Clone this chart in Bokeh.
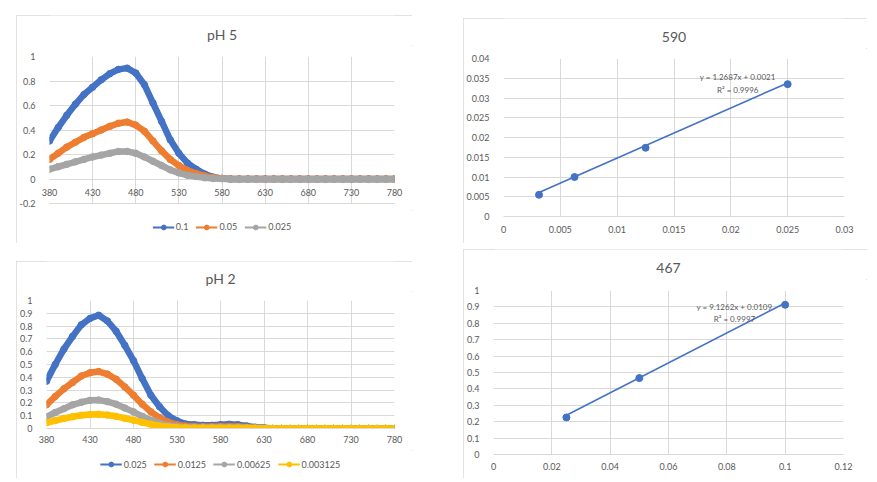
import numpy as np
from bokeh.plotting import figure
from bokeh.layouts import row, column
from bokeh.models import Range1d, FixedTicker, CustomJSTickFormatter, Legend, LegendItem, Label
from bokeh.embed import file_html
from bokeh.resources import INLINE

# ---------------- data ----------------
wavelength = list(range(380, 781, 10))

titles = ["pH 5", "590", "pH 2", "467"]

ph5_labels = ["0.1", "0.05", "0.025"]
ph5_01 = [0.31, 0.42, 0.52, 0.61, 0.69, 0.75, 0.81, 0.86, 0.895, 0.905, 0.865, 0.77, 0.62, 0.47, 0.32,
          0.21, 0.13, 0.08, 0.04, 0.015, 0.005,
          0, 0, 0, 0, 0, 0, 0, 0, 0, 0, 0, 0, 0, 0, 0, 0, 0, 0, 0, 0]
ph5_005 = [0.16, 0.21, 0.26, 0.30, 0.34, 0.37, 0.40, 0.43, 0.455, 0.465, 0.44, 0.39, 0.31, 0.23, 0.16,
           0.11, 0.07, 0.045, 0.025, 0.012, 0.005,
           0, 0, 0, 0, 0, 0, 0, 0, 0, 0, 0, 0, 0, 0, 0, 0, 0, 0, 0, 0]
ph5_0025 = [0.08, 0.10, 0.12, 0.14, 0.16, 0.18, 0.195, 0.21, 0.225, 0.225, 0.21, 0.18, 0.145, 0.11, 0.075,
            0.05, 0.03, 0.02, 0.01, 0.005, 0.002,
            -0.003, -0.003, -0.003, -0.003, -0.003, -0.003, -0.003, -0.003, -0.003, -0.003,
            -0.003, -0.003, -0.003, -0.003, -0.003, -0.003, -0.003, -0.003, -0.003, -0.003]

ph2_labels = ["0.025", "0.0125", "0.00625", "0.003125"]
ph2_0025 = [0.37, 0.50, 0.62, 0.72, 0.81, 0.86, 0.885, 0.84, 0.76, 0.65, 0.53, 0.39, 0.26, 0.17, 0.10,
            0.06, 0.035, 0.03, 0.025, 0.025, 0.03, 0.033, 0.03, 0.02, 0.01, 0.005,
            0, 0, 0, 0, 0, 0, 0, 0, 0, 0, 0, 0, 0, 0, 0]
ph2_00125 = [0.185, 0.25, 0.31, 0.36, 0.41, 0.435, 0.445, 0.425, 0.385, 0.325, 0.26, 0.19, 0.13, 0.085, 0.05,
             0.03, 0.02, 0.015, 0.013, 0.013, 0.015, 0.016, 0.015, 0.01, 0.005, 0.002,
             0, 0, 0, 0, 0, 0, 0, 0, 0, 0, 0, 0, 0, 0, 0]
ph2_000625 = [0.09, 0.125, 0.155, 0.185, 0.205, 0.22, 0.222, 0.21, 0.19, 0.16, 0.13, 0.095, 0.065, 0.042, 0.025,
              0.015, 0.01, 0.008, 0.007, 0.007, 0.007, 0.007, 0.007, 0.005, 0.003, 0.001,
              0, 0, 0, 0, 0, 0, 0, 0, 0, 0, 0, 0, 0, 0, 0]
ph2_0003125 = [0.045, 0.062, 0.078, 0.092, 0.103, 0.11, 0.111, 0.105, 0.095, 0.08, 0.065, 0.048, 0.033, 0.021, 0.013,
               0.008, 0.005, 0.004, 0.004, 0.004, 0.004, 0.004, 0.004, 0.003, 0.002, 0.001,
               0, 0, 0, 0, 0, 0, 0, 0, 0, 0, 0, 0, 0, 0, 0]

conc_590 = [0.003125, 0.00625, 0.0125, 0.025]
abs_590 = [0.0055, 0.0100, 0.0174, 0.0335]
slope_590, icpt_590 = 1.2687, 0.0021
eq_590 = "y = 1.2687x + 0.0021"
r2_590 = "R² = 0.9996"

conc_467 = [0.025, 0.05, 0.1]
abs_467 = [0.226, 0.466, 0.913]
slope_467, icpt_467 = 9.1262, 0.0109
eq_467 = "y = 9.1262x + 0.0109"
r2_467 = "R² = 0.9997"

wl_ticks = [380, 430, 480, 530, 580, 630, 680, 730, 780]
ph5_yticks = [-0.2, 0, 0.2, 0.4, 0.6, 0.8, 1]
ph2_yticks = [0, 0.1, 0.2, 0.3, 0.4, 0.5, 0.6, 0.7, 0.8, 0.9, 1]
c590_xticks = [0, 0.005, 0.01, 0.015, 0.02, 0.025, 0.03]
c590_yticks = [0, 0.005, 0.01, 0.015, 0.02, 0.025, 0.03, 0.035, 0.04]
c467_xticks = [0, 0.02, 0.04, 0.06, 0.08, 0.1, 0.12]
c467_yticks = [0, 0.1, 0.2, 0.3, 0.4, 0.5, 0.6, 0.7, 0.8, 0.9, 1]

# ---------------- style ----------------
FONT = "Lato"
TXT = "#595959"
GRID = "#d9d9d9"
BOX = {"outline": "1px solid #d9d9d9", "outline-offset": "-1px"}
BLUE, ORANGE, GREY, YELLOW = "#4472C4", "#ED7D31", "#A5A5A5", "#FFC000"

fmt_code = "return String(parseFloat(tick.toFixed(6)));"


def blank_fig(w, h):
    q = figure(width=w, height=h, x_range=Range1d(0, 1), y_range=Range1d(0, 1),
               output_backend="svg", toolbar_location=None, x_axis_type=None, y_axis_type=None,
               min_border=0)
    q.grid.visible = False
    q.outline_line_color = None
    q.background_fill_color = "white"
    q.border_fill_color = "white"
    return q


def title_strip(w, h, text, yfrac):
    q = blank_fig(w, h)
    q.add_layout(Label(x=0.5, y=yfrac, text=text, text_align="center", text_baseline="middle",
                       text_font=FONT, text_font_size="14px", text_color=TXT))
    return q


def legend_strip(w, h, labels, colors):
    q = blank_fig(w, h)
    items = []
    for lab, c in zip(labels, colors):
        lr = q.line([float("nan")], [float("nan")], color=c, line_width=2)
        sr = q.scatter([float("nan")], [float("nan")], color=c, size=6)
        items.append(LegendItem(label=lab, renderers=[lr, sr]))
    lg = Legend(items=items, orientation="horizontal", location="center",
                label_text_font=FONT, label_text_font_size="9px", label_text_color=TXT,
                glyph_width=22, glyph_height=12, label_height=12, label_width=5,
                label_standoff=2, spacing=7,
                padding=0, margin=0, border_line_color=None, background_fill_alpha=0)
    q.add_layout(lg)
    return q


def make_fig(w, h, xr, yr, xticks, yticks, borders, xstand, ystand):
    l, r, t, b = borders
    p = figure(width=w, height=h, x_range=Range1d(*xr), y_range=Range1d(*yr),
               output_backend="svg", toolbar_location=None,
               min_border_left=l, min_border_right=r, min_border_top=t, min_border_bottom=b)
    p.outline_line_color = None
    p.background_fill_color = "white"
    p.border_fill_color = "white"
    for ax, ticks, st in ((p.xaxis[0], xticks, xstand), (p.yaxis[0], yticks, ystand)):
        ax.ticker = FixedTicker(ticks=ticks)
        ax.formatter = CustomJSTickFormatter(code=fmt_code)
        ax.major_label_text_font = FONT
        ax.major_label_text_font_size = "9px"
        ax.major_label_text_color = TXT
        ax.major_tick_line_color = None
        ax.minor_tick_line_color = None
        ax.major_label_standoff = st
    p.yaxis.axis_line_color = None
    p.xaxis.axis_line_color = GRID
    p.xgrid.grid_line_color = GRID
    p.ygrid.grid_line_color = GRID
    p.xgrid.ticker = FixedTicker(ticks=xticks)
    p.ygrid.ticker = FixedTicker(ticks=yticks)
    return p


def spectra(p, series, colors):
    for ys, c in zip(series, colors):
        p.line(wavelength, ys, color=c, line_width=6.5)
        p.scatter(wavelength, ys, color=c, size=6.5)


def calib(p, xs, ys, slope, icpt, eq, r2, lx, ly):
    xs_a = np.array(xs)
    tx = np.array([xs_a.min(), xs_a.max()])
    p.line(tx, slope * tx + icpt, color=BLUE, line_width=1.6)
    p.scatter(xs, ys, color=BLUE, size=7)
    for txt, yy in ((eq, ly[0]), (r2, ly[1])):
        p.add_layout(Label(x=lx, y=yy, text=txt, text_align="center", text_baseline="middle",
                           text_font=FONT, text_font_size="8px", text_color=TXT))


# pH 5  (box x 16-411, y 15-242)
t1 = title_strip(396, 30, titles[0], 0.36)
p1 = make_fig(396, 165, (380, 780), (-0.2, 1), wl_ticks, ph5_yticks, (32, 18, 11, 7), -21, 8)
spectra(p1, [ph5_01, ph5_005, ph5_0025], [BLUE, ORANGE, GREY])
l1 = legend_strip(396, 33, ph5_labels, [BLUE, ORANGE, GREY])
box1 = column(t1, p1, l1, margin=(15, 0, 0, 16), styles=BOX)

# pH 2  (box x 16-411, y 261-477)
t3 = title_strip(396, 30, titles[2], 0.44)
p3 = make_fig(396, 159, (380, 780), (0, 1), wl_ticks, ph2_yticks, (29, 18, 9, 22), 1, 8)
spectra(p3, [ph2_0025, ph2_00125, ph2_000625, ph2_0003125], [BLUE, ORANGE, GREY, YELLOW])
l3 = legend_strip(396, 28, ph2_labels, [BLUE, ORANGE, GREY, YELLOW])
box3 = column(t3, p3, l3, margin=(18, 0, 0, 16), styles=BOX)

# 590  (box x 463-866, y 18-242)
t2 = title_strip(404, 30, titles[1], 0.367)
p2 = make_fig(404, 195, (0, 0.03), (0, 0.04), c590_xticks, c590_yticks, (39, 23, 10, 27), 3, 8)
calib(p2, conc_590, abs_590, slope_590, icpt_590, eq_590, r2_590, 0.0206, (0.0352, 0.0321))
box2 = column(t2, p2, margin=(18, 0, 0, 51), styles=BOX)

# 467  (box x 463-866, y 249-477)
t4 = title_strip(404, 30, titles[3], 0.4)
p4 = make_fig(404, 199, (0, 0.12), (0, 1), c467_xticks, c467_yticks, (28, 24, 11, 24), 2, 8)
calib(p4, conc_467, abs_467, slope_467, icpt_467, eq_467, r2_467, 0.0826, (0.902, 0.828))
box4 = column(t4, p4, margin=(6, 0, 0, 51), styles=BOX)

layout = row(column(box1, box3), column(box2, box4))

open("out.html", "w").write(file_html(layout, INLINE))
